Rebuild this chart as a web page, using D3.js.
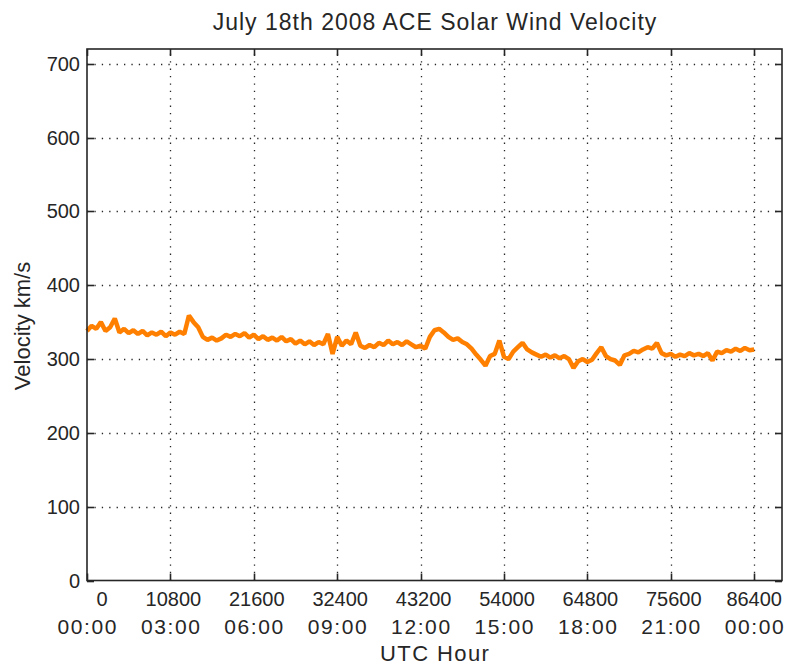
<!DOCTYPE html>
<html>
<head>
<meta charset="utf-8">
<script src="https://cdn.jsdelivr.net/npm/d3@7"></script>
<style>
  html, body { margin: 0; padding: 0; background: #fff; }
  svg { display: block; }
  text { font-family: "Liberation Sans", Arial, sans-serif; fill: #262626; }
</style>
</head>
<body>
<script>
// ACE solar wind speed, 18 July 2008, one sample per 10 minutes (km/s)
const sampleSeconds = 600;
const velocity = [
  338, 345, 341, 350, 338, 343, 355, 336, 341, 335,
  339, 334, 338, 332, 336, 333, 337, 331, 336, 333,
  337, 334, 359, 350, 343, 330, 326, 329, 325, 328,
  333, 330, 334, 331, 335, 329, 333, 327, 331, 326,
  329, 325, 330, 324, 327, 321, 325, 320, 324, 319,
  323, 320, 334, 307, 330, 318, 325, 320, 336, 318,
  315, 319, 316, 322, 319, 325, 320, 323, 319, 324,
  320, 316, 318, 314, 330, 339, 341, 336, 330, 326,
  328, 323, 320, 314, 306, 299, 291, 304, 307, 325,
  303, 300, 310, 316, 322, 313, 309, 306, 303, 306,
  302, 305, 301, 304, 300, 288, 297, 300, 296, 299,
  308, 316, 304, 300, 298, 292, 305, 307, 311, 309,
  313, 316, 314, 322, 308, 305, 307, 303, 306, 304,
  308, 305, 307, 304, 308, 298, 310, 308, 312, 310,
  314, 311, 315, 312, 313
];

// Axis ticks
const xTickSeconds = [0, 10800, 21600, 32400, 43200, 54000, 64800, 75600, 86400];
const xTickClock   = ["00:00", "03:00", "06:00", "09:00", "12:00", "15:00", "18:00", "21:00", "00:00"];
const yTicks = [0, 100, 200, 300, 400, 500, 600, 700];

const titleText = "July 18th 2008 ACE Solar Wind Velocity";
const xLabelText = "UTC Hour";
const yLabelText = "Velocity km/s";

const W = 789, H = 667;
const plot = { left: 87, right: 782, top: 49, bottom: 580.5 };

const x = d3.scaleLinear().domain([0, 90000]).range([plot.left, plot.right]);
const y = d3.scaleLinear().domain([0, 720]).range([plot.bottom, plot.top]);

const svg = d3.select("body").append("svg").attr("width", W).attr("height", H);

// dotted grid
const grid = svg.append("g").attr("stroke", "#262626").attr("stroke-width", 1.3)
  .attr("stroke-dasharray", "1.3 6.1");
grid.selectAll("line.gx").data(xTickSeconds.filter(d => d > 0)).join("line")
  .attr("x1", d => Math.round(x(d)) + 0.5).attr("x2", d => Math.round(x(d)) + 0.5)
  .attr("y1", plot.bottom).attr("y2", plot.top);
grid.selectAll("line.gy").data(yTicks.filter(d => d > 0)).join("line")
  .attr("y1", d => Math.round(y(d)) + 0.5).attr("y2", d => Math.round(y(d)) + 0.5)
  .attr("x1", plot.left).attr("x2", plot.right);

// velocity trace
const line = d3.line()
  .x((d, i) => x(i * sampleSeconds))
  .y(d => y(d));
svg.append("path").datum(velocity)
  .attr("fill", "none").attr("stroke", "#ff8000").attr("stroke-width", 4.5)
  .attr("stroke-linejoin", "bevel").attr("d", line);

// box with inward ticks on all four sides
const tickLen = 7;
const axisG = svg.append("g").attr("stroke", "#262626").attr("stroke-width", 1.6).attr("fill", "none");
axisG.append("rect")
  .attr("x", plot.left).attr("y", plot.top)
  .attr("width", plot.right - plot.left).attr("height", plot.bottom - plot.top);
xTickSeconds.forEach(d => {
  const px = Math.round(x(d)) + 0.5;
  axisG.append("line").attr("x1", px).attr("x2", px).attr("y1", plot.bottom).attr("y2", plot.bottom - tickLen);
  axisG.append("line").attr("x1", px).attr("x2", px).attr("y1", plot.top).attr("y2", plot.top + tickLen);
});
yTicks.forEach(d => {
  const py = Math.round(y(d)) + 0.5;
  axisG.append("line").attr("y1", py).attr("y2", py).attr("x1", plot.left).attr("x2", plot.left + tickLen);
  axisG.append("line").attr("y1", py).attr("y2", py).attr("x1", plot.right).attr("x2", plot.right - tickLen);
});

// y tick labels
svg.append("g").selectAll("text").data(yTicks).join("text")
  .attr("x", plot.left - 7).attr("y", d => y(d) + 7)
  .attr("text-anchor", "end").attr("font-size", 20)
  .text(d => d);

// x tick labels: seconds of day over clock time
const xl = svg.append("g").attr("text-anchor", "middle");
xl.selectAll("text.sec").data(xTickSeconds).join("text")
  .attr("font-size", 20)
  .attr("x", (d, i) => x(d) + (i === 0 ? 15 : (i === xTickSeconds.length - 1 ? 0 : 3)))
  .attr("y", plot.bottom + 25)
  .text(d => d);
xl.selectAll("text.clk").data(xTickSeconds).join("text")
  .attr("font-size", 21).attr("letter-spacing", 1.6)
  .attr("x", d => x(d) + 0.8).attr("y", plot.bottom + 53)
  .text((d, i) => xTickClock[i]);

// title and axis labels
svg.append("text").attr("x", (plot.left + plot.right) / 2 + 0.5).attr("y", 30)
  .attr("text-anchor", "middle").attr("font-size", 23).attr("letter-spacing", 1)
  .text(titleText);
svg.append("text").attr("x", (plot.left + plot.right) / 2 + 0.7).attr("y", 661)
  .attr("text-anchor", "middle").attr("font-size", 22).attr("letter-spacing", 1.4)
  .text(xLabelText);
svg.append("text").attr("transform", `translate(30, ${326}) rotate(-90)`)
  .attr("text-anchor", "middle").attr("font-size", 22).text(yLabelText);
</script>
</body>
</html>
